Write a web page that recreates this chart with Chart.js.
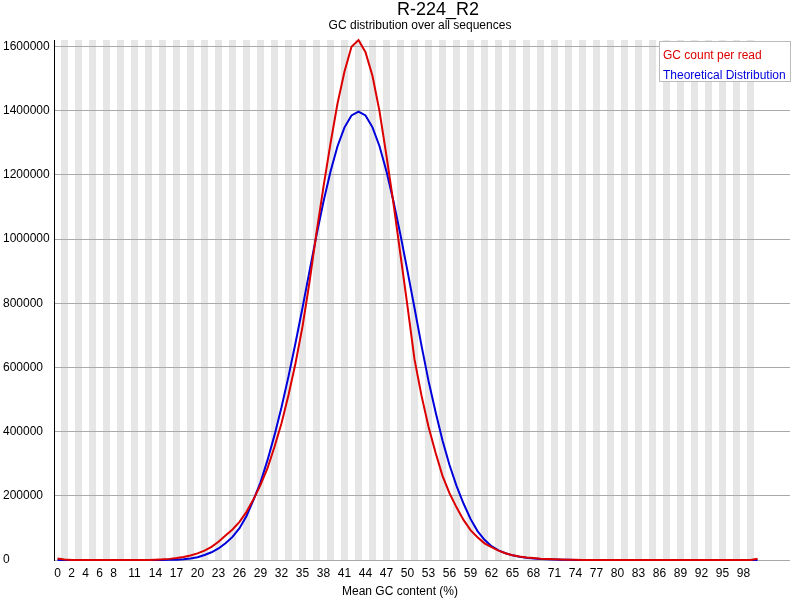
<!DOCTYPE html>
<html>
<head>
<meta charset="utf-8">
<title>R-224_R2 - GC distribution</title>
<script src="https://cdn.jsdelivr.net/npm/chart.js@4.4.0/dist/chart.umd.min.js"></script>
<style>
    html, body { margin: 0; padding: 0; background: #fff; }
    #wrap { width: 800px; height: 600px; }
</style>
</head>
<body>
<div id="wrap"><canvas id="gcChart" width="800" height="600"></canvas></div>
<script>
const chartTitle = 'R-224_R2';
const chartSubtitle = 'GC distribution over all sequences';
const xAxisTitle = 'Mean GC content (%)';
const seriesNames = ['GC count per read', 'Theoretical Distribution'];
const seriesColors = ['rgb(220, 0, 0)', 'rgb(0, 0, 220)'];

// one category per GC percent, 0..100
const gcPercent = Array.from({ length: 101 }, (_, i) => i);

const xTickLabels = [0, 2, 4, 6, 8, 11, 14, 17, 20, 23, 26, 29, 32, 35, 38, 41, 44, 47,
    50, 53, 56, 59, 62, 65, 68, 71, 74, 77, 80, 83, 86, 89, 92, 95, 98];
const yTickLabels = [0, 200000, 400000, 600000, 800000, 1000000, 1200000, 1400000, 1600000];
const yMax = 1620000;

const gcCountPerRead = [
    5000, 1500, 0, 0, 0, 0, 0, 0, 0, 0,
    0, 0, 0, 0, 1000, 2000, 3500, 6000, 9500, 14000,
    20500, 29000, 41000, 57000, 76000, 95000, 119000, 150000, 189000, 234000,
    286000, 353000, 426000, 514000, 613000, 727000, 866000, 1020000, 1163000, 1298000,
    1422000, 1522000, 1599000, 1620000, 1582000, 1508000, 1398000, 1258000, 1110000, 950000,
    790000, 625000, 512000, 415000, 335000, 262000, 208000, 164000, 125000, 93000,
    71000, 52000, 40000, 29000, 21000, 15000, 11000, 8000, 6000, 4000,
    3000, 2000, 1200, 700, 400, 300, 200, 100, 100, 100,
    100, 100, 100, 100, 100, 100, 100, 100, 100, 100,
    100, 100, 100, 100, 100, 100, 100, 100, 100, 100,
    4000
];

const theoreticalDist = [
    0, 0, 0, 0, 0, 0, 0, 0, 0, 0,
    0, 0, 0, 0, 100, 200, 400, 1000, 2500, 4500,
    8500, 15500, 24000, 36000, 52000, 72000, 99000, 137000, 187000, 242000,
    311000, 389000, 476000, 572000, 676000, 786000, 900000, 1012000, 1117000, 1210000,
    1289000, 1348000, 1385000, 1397000, 1385000, 1348000, 1289000, 1210000, 1117000, 1012000,
    900000, 785000, 668000, 558000, 462000, 372000, 296000, 231000, 176000, 128000,
    90000, 63000, 43000, 30000, 21000, 14500, 10000, 7000, 4500, 3000,
    2000, 1200, 700, 400, 200, 100, 0, 0, 0, 0,
    0, 0, 0, 0, 0, 0, 0, 0, 0, 0,
    0, 0, 0, 0, 0, 0, 0, 0, 0, 0,
    0
];

// x runs a bit past 100 so the horizontal grid reaches the right margin like FastQC
const xMax = 104.64;

const FONT = "'Liberation Sans', Arial, sans-serif";
Chart.defaults.font.family = FONT;
Chart.defaults.font.size = 12;
Chart.defaults.color = '#000';

const decorPlugin = {
    id: 'fastqcDecor',
    beforeDraw(chart) {
        const { ctx, chartArea: a, scales: { x } } = chart;
        ctx.save();
        ctx.fillStyle = '#e6e6e6';
        gcPercent.forEach(g => {
            if (g % 2 === 1) {
                const l = x.getPixelForValue(g - 0.5);
                const r = x.getPixelForValue(g + 0.5);
                ctx.fillRect(l, a.top, r - l, a.bottom - a.top);
            }
        });
        ctx.restore();
    },
    afterDraw(chart) {
        const { ctx, chartArea: a } = chart;
        ctx.save();
        ctx.textAlign = 'center';
        ctx.textBaseline = 'alphabetic';
        ctx.fillStyle = '#000';
        ctx.font = '18px ' + FONT;
        ctx.fillText(chartTitle, 438, 15);
        ctx.font = '12px ' + FONT;
        ctx.fillText(chartSubtitle, 420, 29);
        ctx.fillText(xAxisTitle, 400, 595);

        // legend box in the top right corner
        ctx.textAlign = 'left';
        const textW = Math.max(...seriesNames.map(n => ctx.measureText(n).width));
        const w = Math.round(textW + 9);
        const bx = a.right + 1 - w;
        const by = a.top + 1;
        const bh = 41;
        ctx.fillStyle = '#fff';
        ctx.fillRect(bx, by, w, bh);
        ctx.strokeStyle = '#bbbbbb';
        ctx.lineWidth = 1;
        ctx.strokeRect(bx + 0.5, by + 0.5, w - 1, bh - 1);
        seriesNames.forEach((n, i) => {
            ctx.fillStyle = seriesColors[i];
            ctx.fillText(n, bx + 4, by + 18 + i * 20);
        });
        ctx.restore();
    }
};

const ctx = document.getElementById('gcChart').getContext('2d');
const chart = new Chart(ctx, {
    type: 'line',
    data: {
        datasets: [{
            label: seriesNames[0],
            data: gcPercent.map((g, i) => ({ x: g, y: gcCountPerRead[i] })),
            borderColor: seriesColors[0],
            borderWidth: 2,
            pointRadius: 0,
            tension: 0,
            fill: false,
            clip: false
        }, {
            label: seriesNames[1],
            data: gcPercent.map((g, i) => ({ x: g, y: theoreticalDist[i] })),
            borderColor: seriesColors[1],
            borderWidth: 2,
            pointRadius: 0,
            tension: 0,
            fill: false,
            clip: false
        }]
    },
    options: {
        responsive: false,
        animation: false,
        layout: { padding: { top: 40, left: 3, right: 10, bottom: 0 } },
        plugins: {
            legend: { display: false },
            title: { display: false },
            tooltip: { enabled: false }
        },
        scales: {
            x: {
                type: 'linear',
                min: -0.5,
                max: xMax,
                afterBuildTicks: s => { s.ticks = xTickLabels.map(v => ({ value: v })); },
                afterFit: s => { s.height = 40; },
                ticks: {
                    autoSkip: false,
                    maxRotation: 0,
                    padding: 6,
                    callback: v => String(v)
                },
                grid: { display: false, drawTicks: false },
                border: { display: false }
            },
            y: {
                min: 0,
                max: yMax,
                afterBuildTicks: s => { s.ticks = yTickLabels.map(v => ({ value: v })); },
                afterFit: s => { s.width = 51; },
                ticks: {
                    crossAlign: 'far',
                    padding: 0,
                    callback: v => String(v)
                },
                grid: { color: '#aaaaaa', drawTicks: false },
                border: { display: true, color: '#000', width: 1 }
            }
        }
    },
    plugins: [decorPlugin]
});
</script>
</body>
</html>
